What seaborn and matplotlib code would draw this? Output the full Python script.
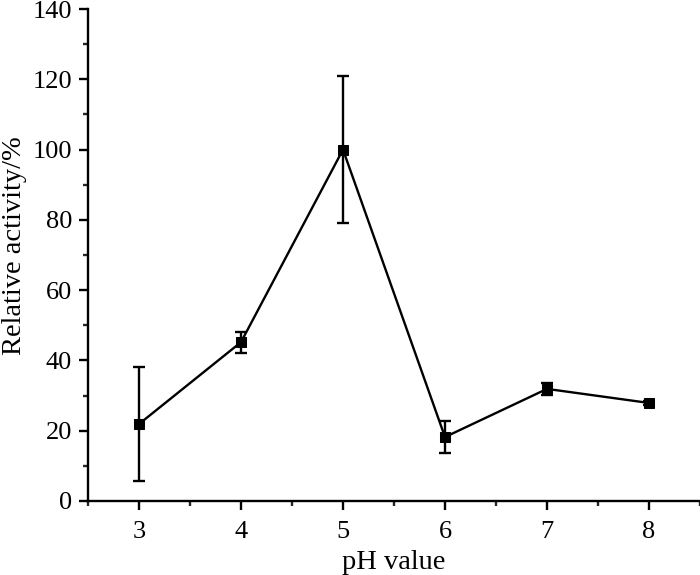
import matplotlib
matplotlib.use("Agg")
import matplotlib.pyplot as plt
from matplotlib.ticker import MultipleLocator
import seaborn as sns
import pandas as pd

# 数据
ph_values = [3, 4, 5, 6, 7, 8]
relative_activity = [21.9, 45.2, 100.0, 18.2, 31.9, 27.9]
activity_err = [16.3, 3.0, 21.0, 4.6, 1.8, 0.6]

df = pd.DataFrame({'pH': ph_values, 'activity': relative_activity, 'err': activity_err})

sns.set_style('ticks')
plt.rcParams['font.family'] = ['Liberation Serif', 'DejaVu Serif']

fig = plt.figure(figsize=(7, 5.75), dpi=100)
ax = fig.add_axes([0.1257, 0.1287, 0.8743, 0.8556])

ax.errorbar(df['pH'], df['activity'], yerr=df['err'], fmt='none',
            ecolor='black', elinewidth=1.7, capsize=4, capthick=1.7, zorder=2)
sns.lineplot(data=df, x='pH', y='activity', ax=ax, color='black',
             linewidth=1.7, marker='s', markersize=7.5, markeredgecolor='black',
             markerfacecolor='black', zorder=3)

ax.set_xlim(2.5, 8.5)
ax.set_ylim(0, 140)
ax.xaxis.set_major_locator(MultipleLocator(1))
ax.xaxis.set_minor_locator(MultipleLocator(0.5))
ax.yaxis.set_major_locator(MultipleLocator(20))
ax.yaxis.set_minor_locator(MultipleLocator(10))

ax.tick_params(which='major', direction='out', length=6.5, width=1.7, labelsize=19,
               colors='black', pad=5)
ax.tick_params(which='minor', direction='out', length=3.5, width=1.7)
ax.tick_params(axis='x', which='major', pad=8)

for side in ['top', 'right']:
    ax.spines[side].set_visible(False)
for side in ['left', 'bottom']:
    ax.spines[side].set_linewidth(1.7)
    ax.spines[side].set_color('black')

ax.set_xlabel('pH value', fontsize=20.5, labelpad=5, color='black')
ax.set_ylabel('Relative activity/%', fontsize=20.5, labelpad=4, color='black', y=0.52)

plt.savefig('out.png', dpi=100)
plt.close()
